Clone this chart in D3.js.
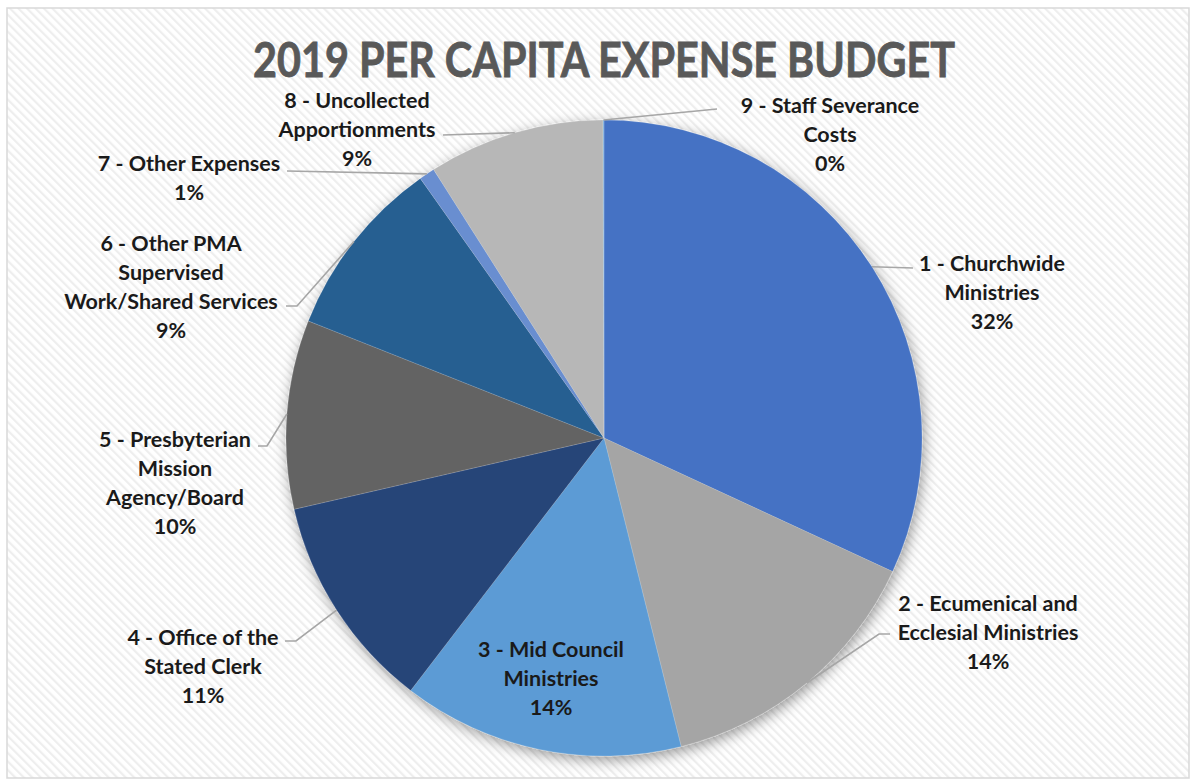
<!DOCTYPE html>
<html>
<head>
<meta charset="utf-8">
<script src="https://cdn.jsdelivr.net/npm/d3@7"></script>
<style>
  html, body { margin: 0; padding: 0; background: #ffffff; }
  svg { display: block; }
</style>
</head>
<body>
<script>
// Budget categories, in drawing order (clockwise from 12 o'clock)
const categories = [
  "1 - Churchwide Ministries",
  "2 - Ecumenical and Ecclesial Ministries",
  "3 - Mid Council Ministries",
  "4 - Office of the Stated Clerk",
  "5 - Presbyterian Mission Agency/Board",
  "6 - Other PMA Supervised Work/Shared Services",
  "7 - Other Expenses",
  "8 - Uncollected Apportionments",
  "9 - Staff Severance Costs"
];
// Share of the per capita expense budget (percent)
const shares = [31.9, 14.2, 14.3, 11.0, 9.6, 9.2, 0.8, 8.95, 0.05];
// Category names as they wrap in the data labels
const labelLines = [
  ["1 - Churchwide", "Ministries"],
  ["2 - Ecumenical and", "Ecclesial Ministries"],
  ["3 - Mid Council", "Ministries"],
  ["4 - Office of the", "Stated Clerk"],
  ["5 - Presbyterian", "Mission", "Agency/Board"],
  ["6 - Other PMA", "Supervised", "Work/Shared Services"],
  ["7 - Other Expenses"],
  ["8 - Uncollected", "Apportionments"],
  ["9 - Staff Severance", "Costs"]
];
const chartTitle = "2019 PER CAPITA EXPENSE BUDGET";

// Slice colours
const palette = ["#4472C4", "#A5A5A5", "#5B9BD5", "#264478", "#636363",
                 "#255E91", "#698ED0", "#B7B7B7", "#7CAFDD"];

// Label placement: block centre x, first line centre y, leader anchor / elbow
const labelLayout = [
  { x: 992, y: 263, anchor: [913, 268] },
  { x: 988, y: 603, anchor: [890, 634], elbow: [879, 634] },
  { x: 551, y: 649 },
  { x: 203, y: 637, anchor: [285, 641], elbow: [296, 641] },
  { x: 175, y: 439, anchor: [258, 446], elbow: [267, 446] },
  { x: 171, y: 243, anchor: [286, 306], elbow: [297, 306] },
  { x: 189, y: 163, anchor: [287, 171] },
  { x: 357, y: 100, anchor: [443, 135] },
  { x: 830, y: 105, anchor: [717, 109] }
];

const W = 1194, H = 782;
const cx = 604, cy = 438, R = 318;
const lineH = 29;

const svg = d3.select("body").append("svg")
  .attr("width", W).attr("height", H);

const defs = svg.append("defs");

// light diagonal hatch of the chart area
const pat = defs.append("pattern")
  .attr("id", "hatch")
  .attr("patternUnits", "userSpaceOnUse")
  .attr("width", 6).attr("height", 6)
  .attr("patternTransform", "rotate(-45)");
pat.append("rect").attr("width", 6).attr("height", 6).attr("fill", "#ffffff");
pat.append("rect").attr("width", 2.2).attr("height", 6).attr("fill", "#eeeeee");

// soft shadow under the pie
const shadow = defs.append("filter")
  .attr("id", "pieShadow")
  .attr("x", "-20%").attr("y", "-20%")
  .attr("width", "140%").attr("height", "140%");
shadow.append("feDropShadow")
  .attr("dx", 2).attr("dy", 4)
  .attr("stdDeviation", 7)
  .attr("flood-color", "#000000")
  .attr("flood-opacity", 0.4);

// chart area with border
svg.append("rect")
  .attr("x", 7).attr("y", 8)
  .attr("width", 1182).attr("height", 770)
  .attr("fill", "url(#hatch)")
  .attr("stroke", "#d9d9d9")
  .attr("stroke-width", 1.5);

// title
const title = svg.append("text")
  .attr("x", 604).attr("y", 77)
  .attr("text-anchor", "middle")
  .attr("font-family", "Lato, 'Open Sans', sans-serif")
  .attr("font-weight", 700)
  .attr("font-size", 47)
  .attr("fill", "#595959")
  .attr("stroke", "#595959")
  .attr("stroke-width", 0.8)
  .text(chartTitle);
title.attr("textLength", 702).attr("lengthAdjust", "spacingAndGlyphs");

// pie
const total = d3.sum(shares);
const pie = d3.pie().sort(null).value(d => d);
const arcs = pie(shares);
const arc = d3.arc().innerRadius(0).outerRadius(R);

const g = svg.append("g").attr("transform", `translate(${cx},${cy})`);

const slices = g.append("g").attr("filter", "url(#pieShadow)");
slices.selectAll("path")
  .data(arcs)
  .join("path")
  .attr("d", arc)
  .attr("fill", (d, i) => palette[i])
  .attr("stroke", "#ffffff")
  .attr("stroke-opacity", 0.3)
  .attr("stroke-width", 0.5);

// leader lines from labels to the slice rim
const leaders = svg.append("g")
  .attr("fill", "none")
  .attr("stroke", "#a6a6a6")
  .attr("stroke-width", 1.6);

arcs.forEach((d, i) => {
  const L = labelLayout[i];
  if (!L.anchor) return;
  const mid = (d.startAngle + d.endAngle) / 2;
  const p = [cx + R * Math.sin(mid), cy - R * Math.cos(mid)];
  const pts = [L.anchor];
  if (L.elbow) pts.push(L.elbow);
  pts.push(p);
  leaders.append("path").attr("d", d3.line()(pts));
});

// data labels
const labels = svg.append("g")
  .attr("font-family", "Lato, 'Open Sans', sans-serif")
  .attr("font-weight", 700)
  .attr("font-size", 21.5)
  .attr("fill", "#1a1a1a")
  .attr("text-anchor", "middle");

arcs.forEach((d, i) => {
  const L = labelLayout[i];
  const lines = labelLines[i].concat([Math.round(d.data / total * 100) + "%"]);
  const t = labels.append("text").attr("x", L.x).attr("y", L.y);
  lines.forEach((s, k) => {
    t.append("tspan")
      .attr("x", L.x)
      .attr("y", L.y + k * lineH)
      .attr("dominant-baseline", "central")
      .text(s);
  });
});
</script>
</body>
</html>
